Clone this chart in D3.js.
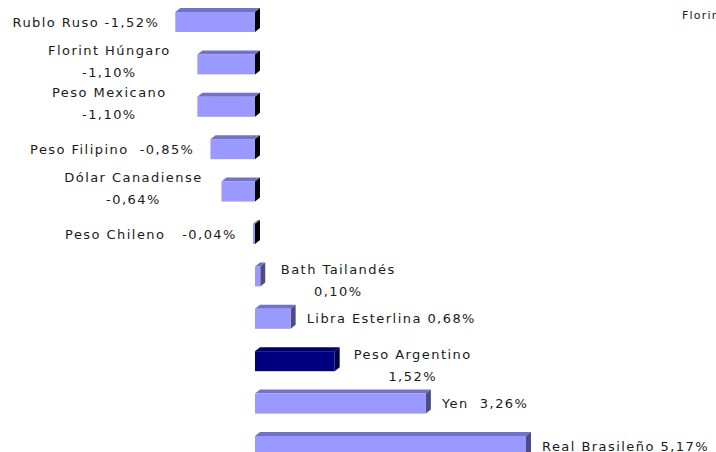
<!DOCTYPE html>
<html>
<head>
<meta charset="utf-8">
<script src="https://cdn.jsdelivr.net/npm/d3@7"></script>
<style>
  body { margin: 0; background: #fff; }
  svg { display: block; }
  text { font-family: "DejaVu Sans", Verdana, sans-serif; fill: #1a1a1a; white-space: pre; }
</style>
</head>
<body>
<svg id="chart" width="716" height="452"></svg>
<script>
// currencies, top to bottom
const currencies = ["Rublo Ruso", "Florint Húngaro", "Peso Mexicano", "Peso Filipino",
    "Dólar Canadiense", "Peso Chileno", "Bath Tailandés", "Libra Esterlina",
    "Peso Argentino", "Yen", "Real Brasileño"];
const changes = [-1.52, -1.10, -1.10, -0.85, -0.64, -0.04, 0.10, 0.68, 1.52, 3.26, 5.17];
// data labels as they appear (line breaks where the label wraps)
const labels = ["Rublo Ruso -1,52%", "Florint Húngaro\n-1,10%", "Peso Mexicano\n-1,10%",
    "Peso Filipino  -0,85%", "Dólar Canadiense\n-0,64%", "Peso Chileno   -0,04%",
    "Bath Tailandés\n0,10%", "Libra Esterlina 0,68%", "Peso Argentino\n1,52%",
    "Yen  3,26%", "Real Brasileño 5,17%"];
const highlight = "Peso Argentino";
const strayLabel = "Florint Húngaro";

const data = currencies.map((c, i) => ({name: c, value: changes[i], label: labels[i]}));

const svg = d3.select("#chart");
const depthX = 5, depthY = 4;

var x = d3.scaleLinear()
    .domain([0, 5.17])
    .range([255, 526]);

var y = d3.scaleBand()
    .domain(currencies)
    .range([12, 456])
    .paddingInner(0.528)
    .paddingOuter(0);

function colors(d) {
    if (d.name === highlight) return {front: "#000080", top: "#000066", side: "#000042"};
    if (d.value < 0) return {front: "#9999ff", top: "#7373c4", side: "#000000"};
    return {front: "#9999ff", top: "#7373c4", side: "#4d4d86"};
}

var bar = svg.selectAll(".bar")
    .data(data)
    .enter()
    .append("g")
    .attr("class", "bar");

// top face
bar.append("polygon")
    .attr("points", function(d) {
        const x0 = x(Math.min(0, d.value)), x1 = x(Math.max(0, d.value)), yy = y(d.name);
        return [[x0, yy], [x0 + depthX, yy - depthY], [x1 + depthX, yy - depthY], [x1, yy]].join(" ");
    })
    .attr("fill", d => colors(d).top);

// side face
bar.append("polygon")
    .attr("points", function(d) {
        const x1 = x(Math.max(0, d.value)), yy = y(d.name), h = y.bandwidth();
        return [[x1, yy], [x1 + depthX, yy - depthY], [x1 + depthX, yy + h - depthY], [x1, yy + h]].join(" ");
    })
    .attr("fill", d => colors(d).side);

// front face
bar.append("rect")
    .attr("x", d => x(Math.min(0, d.value)))
    .attr("y", d => y(d.name))
    .attr("width", d => Math.abs(x(d.value) - x(0)))
    .attr("height", y.bandwidth())
    .attr("fill", d => colors(d).front);

// data labels
var label = svg.selectAll(".label")
    .data(data)
    .enter()
    .append("text")
    .attr("class", "label")
    .attr("font-size", 13)
    .attr("letter-spacing", 1.45)
    .attr("xml:space", "preserve")
    .each(function(d) {
        const lines = d.label.split("\n");
        const t = d3.select(this);
        const cy = y(d.name) + y.bandwidth() / 2;
        if (lines.length === 1) {
            t.attr("text-anchor", d.value < 0 ? "end" : "start")
             .attr("x", d.value < 0 ? x(d.value) - 16 : x(d.value) + 16)
             .attr("y", cy)
             .attr("dy", "0.36em")
             .text(lines[0]);
        } else {
            const cx = d.value < 0 ? x(d.value) - 88 : x(d.value) + 78;
            const offs = d.value < 0 ? [-14, 8] : [-7, 15];
            t.attr("text-anchor", "middle");
            lines.forEach(function(line, i) {
                t.append("tspan")
                    .attr("x", cx)
                    .attr("y", cy + offs[i])
                    .attr("dy", "0.36em")
                    .text(line);
            });
        }
    });

// stray, clipped label at the top right
svg.append("text")
    .attr("x", 682)
    .attr("y", 19)
    .attr("font-size", 11)
    .attr("letter-spacing", 1.2)
    .attr("fill", "#333")
    .text(strayLabel);
</script>
</body>
</html>
